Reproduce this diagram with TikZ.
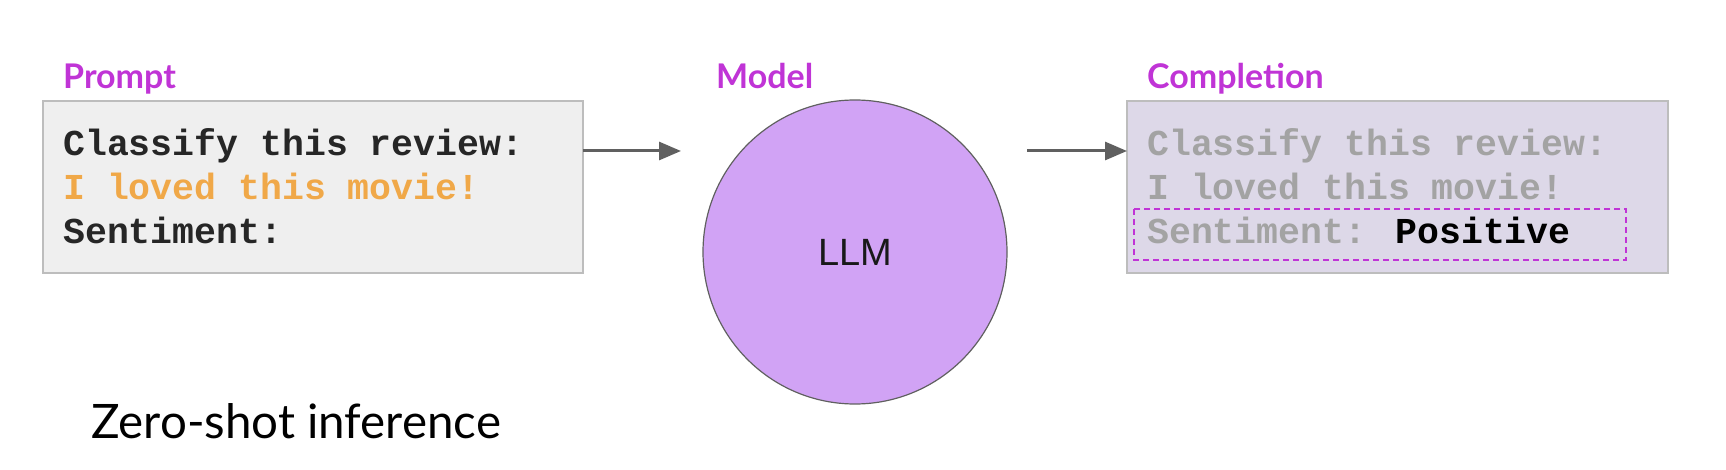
\documentclass[tikz,border=0pt]{standalone}
\usepackage{fontspec}
\setmainfont{Lato}
\newfontfamily\monofont{Liberation Mono}
\newfontfamily\llmfont{Liberation Sans}
\usetikzlibrary{arrows.meta}
\definecolor{labmag}{HTML}{C034D6}
\definecolor{orangetxt}{HTML}{F0A848}
\definecolor{boxgray}{HTML}{EFEFEF}
\definecolor{boxline}{HTML}{BDBDBD}
\definecolor{compfill}{HTML}{DDD8E8}
\definecolor{comptxt}{HTML}{A3A3A3}
\definecolor{llmfill}{HTML}{D1A3F5}
\definecolor{arrowgray}{HTML}{606060}
\begin{document}
\begin{tikzpicture}[x=1pt,y=-1pt,
  lab/.style={font=\fontsize{34}{40}\selectfont\bfseries, text=labmag, anchor=base west, inner sep=0},
  codetxt/.style={font=\fontsize{36.5}{44}\monofont\bfseries, anchor=base west, inner sep=0, align=left},
  panel/.style={draw=boxline, line width=1.2pt},
  flow/.style={draw=arrowgray, line width=3pt, -{Triangle[length=22pt,width=18pt]}}]
\useasboundingbox (0,0) rectangle (1726,470);
% labels
\node[lab] (lprompt) at (63,89) {Prompt};
\node[lab] (lmodel) at (716,89) {Model};
\node[lab] (lcomp) at (1147,89) {Completion};
% prompt box
\path[panel, fill=boxgray] (43,101) rectangle (583,273);
\coordinate (pboxE) at (583,151);
\node[codetxt, text=black!85] (p1) at (63,156) {Classify this review:};
\node[codetxt, text=orangetxt] (p2) at (63,200) {I loved this movie!};
\node[codetxt, text=black!85] (p3) at (63,244) {Sentiment:};
% model
\node[circle, draw=arrowgray, line width=1.2pt, fill=llmfill, minimum size=304pt, inner sep=0] (llm) at (855,252) {};
\node[font=\fontsize{38}{44}\llmfont, text=black!90] (llmtxt) at (llm.center) {LLM};
% completion box
\path[panel, fill=compfill] (1127,101) rectangle (1668,273);
\coordinate (cboxW) at (1127,151);
\node[codetxt, text=comptxt] (c1) at (1147,156) {Classify this review:};
\node[codetxt, text=comptxt] (c2) at (1147,200) {I loved this movie!};
\node[codetxt, text=comptxt] (c3) at (1147,244) {Sentiment: \textcolor{black}{Positive}};
\draw[labmag, line width=1.5pt, dash pattern=on 6pt off 4pt] (1134,209) rectangle (1626,260);
% arrows
\coordinate (a1end) at (681,151);
\coordinate (a2start) at (1027,151);
\draw[flow] (pboxE) -- (a1end);
\draw[flow] (a2start) -- (cboxW);
% caption
\node[font=\fontsize{47.5}{56}\selectfont, anchor=base west, inner sep=0] (cap) at (91,438) {Zero-shot inference};
\end{tikzpicture}
\end{document}
